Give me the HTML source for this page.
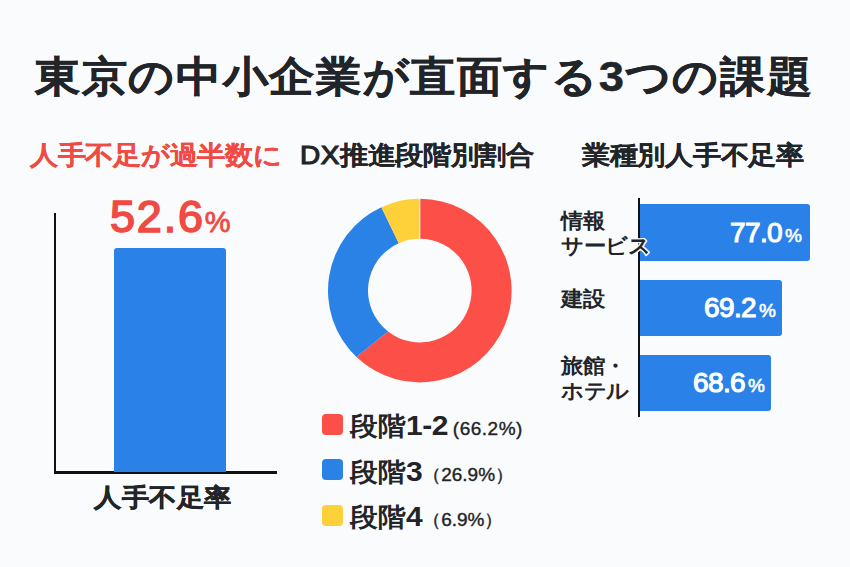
<!DOCTYPE html>
<html lang="ja">
<head>
<meta charset="utf-8">
<style>
html,body{margin:0;padding:0;}
body{width:850px;height:567px;overflow:hidden;background:#fafbfc;position:relative;font-family:"Liberation Sans",sans-serif;color:#212428;}
.a{position:absolute;white-space:nowrap;line-height:1;}
.b{font-weight:700;}
.red{color:#ef4a43;}
.title{left:35px;top:56px;font-size:45.5px;font-weight:700;letter-spacing:0.65px;-webkit-text-stroke:0.4px #212428;transform:scaleY(0.93);transform-origin:0 0;}
.h{font-size:28px;font-weight:700;top:143px;letter-spacing:-0.3px;-webkit-text-stroke:0.1px currentColor;transform:scaleY(0.92);transform-origin:0 0;}
.line{position:absolute;background:#111;}
.bar{position:absolute;background:#2a82e8;border-radius:3px;}
.sq{position:absolute;width:21px;height:21px;border-radius:4px;}
.lg{font-size:28px;font-weight:700;transform:scaleY(0.94);transform-origin:0 0;}
.lp{font-size:19px;font-weight:400;-webkit-text-stroke:0.4px currentColor;letter-spacing:0.5px;position:relative;top:1px;}
.dg{font-size:30px;letter-spacing:-0.5px;}
.cat{font-size:22px;font-weight:700;line-height:27px;letter-spacing:-0.5px;-webkit-text-stroke:3px #fafbfc;paint-order:stroke fill;transform:scaleY(0.94);transform-origin:0 0;}
.val{color:#fff;font-weight:400;font-size:28px;letter-spacing:-0.6px;-webkit-text-stroke:1.1px #fff;}
.val small{font-size:19px;margin-left:3px;letter-spacing:0;-webkit-text-stroke:0.6px #fff;}
</style>
</head>
<body>
<div class="a title">東京の中小企業が直面する3つの課題</div>

<div class="a h red" style="left:30px;">人手不足が過半数に</div>
<div class="a h" style="left:300px;"><span style="font-weight:400;-webkit-text-stroke:1.2px currentColor;letter-spacing:0.5px">DX</span>推進段階別割合</div>
<div class="a h" style="left:582px;">業種別人手不足率</div>

<!-- left bar chart -->
<div class="a red" style="left:110px;top:194px;font-size:45px;letter-spacing:1.8px;-webkit-text-stroke:1.6px currentColor;">52.6<span style="font-size:29px;letter-spacing:0;-webkit-text-stroke:0.8px currentColor;margin-left:0">%</span></div>
<div class="line" style="left:54px;top:213px;width:2.2px;height:261px;"></div>
<div class="line" style="left:54px;top:471.3px;width:223px;height:2.4px;"></div>
<div class="bar" style="left:113.5px;top:248px;width:112px;height:224px;border-radius:3px 3px 0 0;"></div>
<div class="a b" style="left:94px;top:486px;font-size:27px;letter-spacing:0.6px;-webkit-text-stroke:0.5px currentColor;transform:scaleY(0.92);transform-origin:0 0;">人手不足率</div>

<!-- donut -->
<svg style="position:absolute;left:0;top:0" width="850" height="567">
  <path d="M419.8 198.8 A91.8 91.8 0 1 1 356.43 357.02 L388.1 331.57 A51.8 51.8 0 1 0 419.8 238.8 Z" fill="#fc4f48"/>
  <path d="M356.43 357.02 A91.8 91.8 0 0 1 381.36 207.24 L398.76 243.26 A51.8 51.8 0 0 0 388.1 331.57 Z" fill="#2b82e6"/>
  <path d="M381.36 207.24 A91.8 91.8 0 0 1 419.8 198.8 L419.8 238.8 A51.8 51.8 0 0 0 398.76 243.26 Z" fill="#fed03a"/>
  <line x1="419.8" y1="198" x2="419.8" y2="239.5" stroke="#fafbfc" stroke-width="1"/>
</svg>

<!-- legend -->
<div class="sq" style="left:322px;top:414px;background:#fc4f48;"></div>
<div class="a lg" style="left:350px;top:411px;">段階<span class="dg">1-2</span><span class="lp" style="margin-left:5px">(66.2%)</span></div>
<div class="sq" style="left:322px;top:459px;background:#2b82e6;"></div>
<div class="a lg" style="left:350px;top:457px;">段階<span class="dg">3</span><span class="lp" style="letter-spacing:0">（26.9%）</span></div>
<div class="sq" style="left:322px;top:505px;background:#fed03a;"></div>
<div class="a lg" style="left:350px;top:502px;">段階<span class="dg">4</span><span class="lp" style="letter-spacing:0">（6.9%）</span></div>

<!-- right bar chart -->
<div class="bar" style="left:639px;top:204px;width:171px;height:57px;border-radius:0 3px 3px 0;"></div>
<div class="bar" style="left:639px;top:280px;width:143px;height:56px;border-radius:0 3px 3px 0;"></div>
<div class="bar" style="left:639px;top:355px;width:132px;height:56px;border-radius:0 3px 3px 0;"></div>
<div class="line" style="left:637.5px;top:198px;width:2px;height:219px;"></div>
<div class="a cat" style="left:561px;top:208px;">情報<br>サービス</div>
<div class="a cat" style="left:561px;top:286px;">建設</div>
<div class="a cat" style="left:561px;top:353px;">旅館・<br>ホテル</div>
<div class="a val" style="right:48px;top:219px;">77.0<small>%</small></div>
<div class="a val" style="right:74px;top:294px;">69.2<small>%</small></div>
<div class="a val" style="right:85px;top:369px;">68.6<small>%</small></div>
</body>
</html>
